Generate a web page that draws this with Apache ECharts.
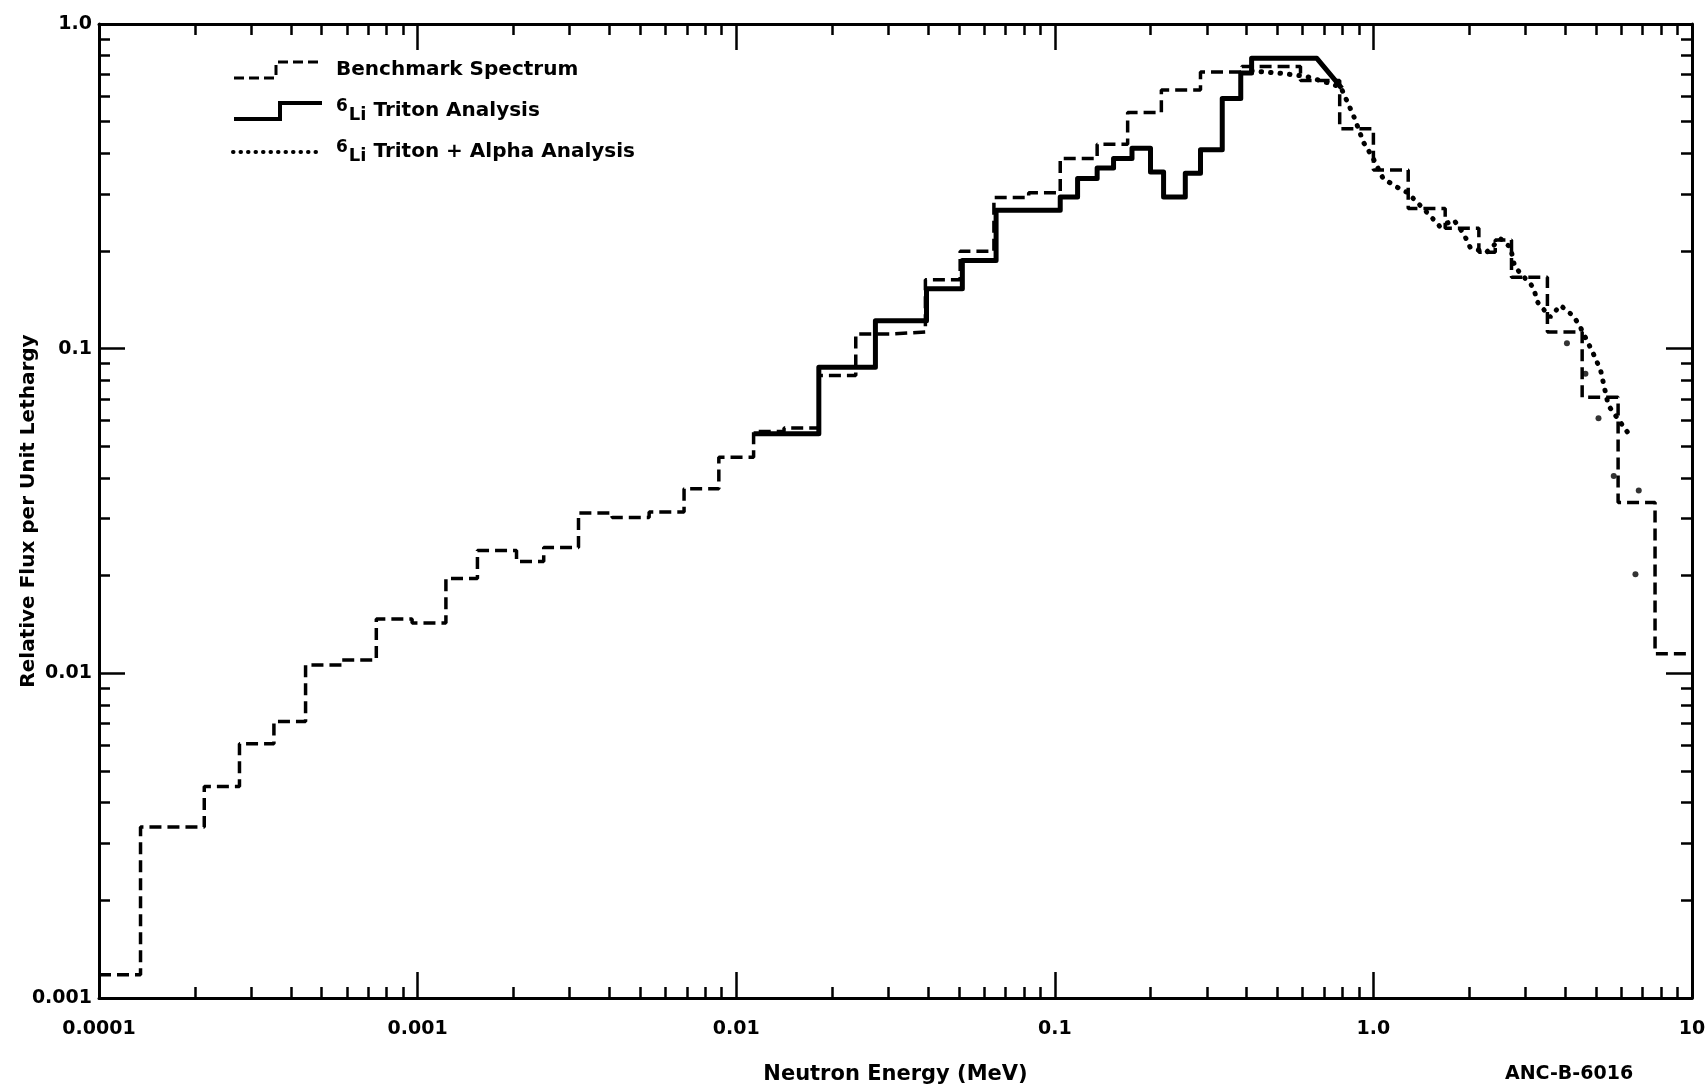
<!DOCTYPE html>
<html>
<head>
<meta charset="utf-8" />
<title>Relative Flux per Unit Lethargy</title>
<style>
html, body { margin: 0; padding: 0; background: #fff; }
#chart { width: 1706px; height: 1087px; }
</style>
</head>
<body>
<div id="chart"></div>
<script src="https://cdn.jsdelivr.net/npm/echarts@6/dist/echarts.min.js"></script>
<script>
// benchmark spectrum: group edges (MeV) and flux of each group
var benchEdges = [0.0001, 1.35e-4, 2.14e-4, 2.76e-4, 3.54e-4, 4.45e-4, 5.77e-4, 7.42e-4, 9.61e-4,
  1.227e-3, 1.541e-3, 2.044e-3, 2.488e-3, 3.199e-3, 4.08e-3, 5.33e-3, 6.86e-3, 8.82e-3,
  0.01134, 0.01413, 0.01817, 0.02373, 0.03029, 0.03925, 0.05046, 0.0644, 0.0828,
  0.104, 0.1358, 0.1693, 0.216, 0.2866, 0.3864, 0.5904, 0.7838,
  1.0, 1.286, 1.68, 2.143, 2.412, 2.713, 3.517, 4.521, 5.862, 7.656, 10];
var benchFlux = [0.00118, 0.00336, 0.00448, 0.00607, 0.0071, 0.0106, 0.0110, 0.0147, 0.0143,
  0.0196, 0.0239, 0.0221, 0.0244, 0.0312, 0.0302, 0.0314, 0.0370, 0.0463,
  0.0556, 0.0570, 0.0826, 0.1110, 0.1125, 0.163, 0.1995, 0.292, 0.302,
  0.385, 0.426, 0.534, 0.626, 0.712, 0.74, 0.67,
  0.476, 0.355, 0.270, 0.235, 0.198, 0.216, 0.166, 0.1125, 0.0708, 0.0336, 0.0115];

// 6Li triton analysis
var tritonEdges = [0.01134, 0.01817, 0.02735, 0.03956, 0.05126, 0.06542, 0.104, 0.1179, 0.1358,
  0.1529, 0.1747, 0.1997, 0.2195, 0.2568, 0.2866, 0.3354, 0.3834, 0.4147, 0.6645];
var tritonFlux = [0.0547, 0.0877, 0.122, 0.153, 0.187, 0.267, 0.293, 0.334, 0.36,
  0.385, 0.414, 0.35, 0.293, 0.347, 0.41, 0.59, 0.706, 0.784];
var tritonTail = [0.796, 0.634];

// 6Li triton + alpha analysis (dotted)
var alphaCurve = [[0.4147, 0.717], [0.505, 0.706], [0.614, 0.690], [0.72, 0.659], [0.790, 0.639],
  [0.868, 0.519], [0.932, 0.431], [0.992, 0.390], [1.073, 0.334], [1.189, 0.314], [1.276, 0.303],
  [1.369, 0.283], [1.505, 0.257], [1.615, 0.238], [1.789, 0.249], [1.920, 0.226], [2.013, 0.205],
  [2.264, 0.198], [2.507, 0.218], [2.692, 0.205], [2.778, 0.1785], [3.176, 0.1546], [3.277, 0.139],
  [3.588, 0.125], [3.864, 0.136], [4.246, 0.126], [4.452, 0.117], [4.891, 0.097], [5.168, 0.0857],
  [5.461, 0.0669], [6.391, 0.0539]];
var alphaStray = [[4.05, 0.104], [4.629, 0.0837], [5.088, 0.061], [5.68, 0.0405], [6.805, 0.0366], [6.645, 0.0202]];

var FONT = 'DejaVu Sans';

function steps(edges, vals) {
  var pts = [];
  for (var i = 0; i < vals.length; i++) {
    pts.push([edges[i], vals[i]]);
    pts.push([edges[i + 1], vals[i]]);
  }
  return pts;
}

function tickFmt(v) {
  return v === 1 ? '1.0' : String(v);
}

function logAxis(min, max, pos, labels) {
  return {
    type: 'log',
    logBase: 10,
    min: min,
    max: max,
    position: pos,
    axisLine: { show: true, lineStyle: { color: '#000', width: 3 } },
    axisTick: { show: true, inside: true, length: 26, lineStyle: { color: '#000', width: 2.5 } },
    minorTick: { show: true, splitNumber: 9, length: 11, lineStyle: { color: '#000', width: 2.5 } },
    splitLine: { show: false },
    minorSplitLine: { show: false },
    axisLabel: {
      show: labels,
      formatter: tickFmt,
      color: '#000',
      fontFamily: FONT,
      fontWeight: 'bold',
      fontSize: 19
    }
  };
}

var chart = echarts.init(document.getElementById('chart'));

var xBottom = logAxis(0.0001, 10, 'bottom', true);
xBottom.axisLabel.margin = 22;
xBottom.name = 'Neutron Energy (MeV)';
xBottom.nameLocation = 'middle';
xBottom.nameGap = 66;
xBottom.nameMoveOverlap = false;
xBottom.nameTextStyle = { color: '#000', fontFamily: FONT, fontWeight: 'bold', fontSize: 21 };

var yLeft = logAxis(0.001, 1, 'left', true);
yLeft.axisLabel.margin = 7;
yLeft.name = 'Relative Flux per Unit Lethargy';
yLeft.nameLocation = 'middle';
yLeft.nameGap = 60;
yLeft.nameMoveOverlap = false;
yLeft.nameTextStyle = { color: '#000', fontFamily: FONT, fontWeight: 'bold', fontSize: 20 };

var option = {
  animation: false,
  backgroundColor: '#fff',
  grid: { left: 99, right: 14, top: 24, bottom: 89, outerBoundsMode: 'none', containLabel: false },
  xAxis: [xBottom, logAxis(0.0001, 10, 'top', false)],
  yAxis: [yLeft, logAxis(0.001, 1, 'right', false)],
  legend: {
    left: 226,
    top: 52,
    orient: 'vertical',
    itemWidth: 90,
    itemHeight: 16,
    itemGap: 15,
    selectedMode: false,
    data: [
      { name: 'Benchmark Spectrum', icon: 'path://M0,16L42,16L42,0L88,0',
        itemStyle: { color: 'transparent', borderColor: '#000', borderWidth: 3, borderType: [10, 5] } },
      { name: '6Li Triton Analysis', icon: 'path://M0,16L46,16L46,0L88,0',
        itemStyle: { color: 'transparent', borderColor: '#000', borderWidth: 4 } },
      { name: '6Li Triton + Alpha Analysis',
        itemStyle: { color: 'transparent', borderWidth: 0 },
        lineStyle: { color: '#000', width: 4, type: [0.5, 7], cap: 'round' } }
    ],
    formatter: function (n) {
      return n.replace(/^6Li/, '{sup|6}{li|Li}');
    },
    textStyle: {
      color: '#000',
      fontFamily: FONT,
      fontWeight: 'bold',
      fontSize: 20,
      lineHeight: 26,
      padding: [0, 0, 0, 8],
      rich: {
        sup: { color: '#000', fontFamily: FONT, fontWeight: 'bold', fontSize: 17, lineHeight: 17, verticalAlign: 'top', padding: [0, 1, 0, 0] },
        li: { color: '#000', fontFamily: FONT, fontWeight: 'bold', fontSize: 18, lineHeight: 22, verticalAlign: 'bottom' }
      }
    }
  },
  graphic: [
    { type: 'text', left: 1505, top: 1065,
      style: { text: 'ANC-B-6016', fill: '#000', font: 'bold 19px "DejaVu Sans"' } }
  ],
  series: [
    {
      name: 'Benchmark Spectrum',
      type: 'line',
      data: steps(benchEdges, benchFlux),
      symbol: 'none',
      lineStyle: { color: '#000', width: 3.5, type: [12, 6] },
      z: 2
    },
    {
      name: '6Li Triton Analysis',
      type: 'line',
      data: steps(tritonEdges, tritonFlux).concat([tritonTail]),
      symbol: 'none',
      lineStyle: { color: '#000', width: 5, join: 'round' },
      z: 3
    },
    {
      name: '6Li Triton + Alpha Analysis',
      type: 'line',
      data: alphaCurve,
      symbol: 'none',
      lineStyle: { color: '#000', width: 5, type: [0.5, 9], cap: 'round' },
      z: 4
    },
    {
      name: '6Li Triton + Alpha Analysis',
      type: 'scatter',
      data: alphaStray,
      symbol: 'circle',
      symbolSize: 6,
      itemStyle: { color: '#000' },
      z: 4
    }
  ]
};

chart.setOption(option);
</script>
</body>
</html>
